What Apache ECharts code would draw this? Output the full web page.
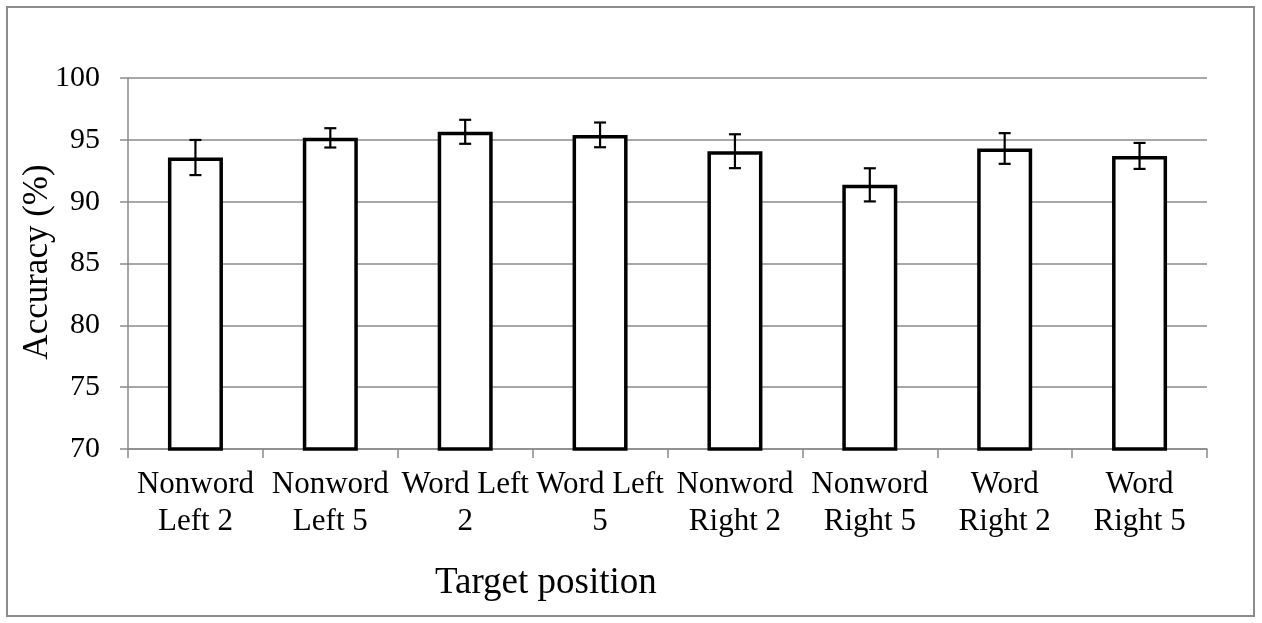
<!DOCTYPE html>
<html>
<head>
<meta charset="utf-8">
<title>Accuracy by target position</title>
<script src="https://cdn.jsdelivr.net/npm/echarts@6/dist/echarts.min.js"></script>
<style>
  html, body { margin: 0; padding: 0; background: #fff; }
  #chart { width: 1262px; height: 623px; }
</style>
</head>
<body>
<div id="chart"></div>
<script>
// Conditions along the x axis
const categories = [
  'Nonword Left 2', 'Nonword Left 5', 'Word Left 2', 'Word Left 5',
  'Nonword Right 2', 'Nonword Right 5', 'Word Right 2', 'Word Right 5'
];
// Wrapped tick labels for each condition
const tickLabels = [
  'Nonword\nLeft 2', 'Nonword\nLeft 5', 'Word Left\n2', 'Word Left\n5',
  'Nonword\nRight 2', 'Nonword\nRight 5', 'Word\nRight 2', 'Word\nRight 5'
];
// Mean accuracy (%) and the error-bar half-width
const accuracy = [93.57, 95.16, 95.65, 95.40, 94.08, 91.36, 94.30, 93.70];
const errorSize = [1.42, 0.78, 0.97, 1.00, 1.37, 1.34, 1.24, 1.05];

const serif = '"Liberation Serif", "Times New Roman", Times, serif';
const gridGray = '#8a8a8a';

const chart = echarts.init(document.getElementById('chart'), null, { renderer: 'canvas' });

const errorData = accuracy.map((v, i) => [i, v - errorSize[i], v + errorSize[i]]);

chart.setOption({
  animation: false,
  backgroundColor: '#fff',
  grid: { left: 128, right: 55, top: 78, bottom: 174, containLabel: false },
  graphic: [
    {
      type: 'rect',
      shape: { x: 7, y: 7, width: 1247, height: 609 },
      style: { fill: 'none', stroke: '#8c8c8c', lineWidth: 2 },
      silent: true, z: -1
    },
    {
      type: 'text',
      left: 435, top: 565,
      style: { text: 'Target position', font: '37px ' + serif, fill: '#000' }
    },
    {
      type: 'text',
      x: 38, y: 262,
      rotation: Math.PI / 2,
      style: {
        text: 'Accuracy (%)', font: '35px ' + serif, fill: '#000',
        align: 'center', verticalAlign: 'middle'
      }
    }
  ],
  xAxis: {
    type: 'category',
    data: categories,
    axisLine: { lineStyle: { color: gridGray, width: 1.5 } },
    axisTick: { show: true, length: 9, lineStyle: { color: gridGray, width: 1.5 } },
    axisLabel: {
      interval: 0,
      margin: 17,
      color: '#000',
      fontFamily: serif,
      fontSize: 31,
      lineHeight: 37,
      formatter: (val, idx) => tickLabels[idx]
    },
    splitLine: { show: false }
  },
  yAxis: {
    type: 'value',
    min: 70, max: 100, interval: 5,
    axisLine: { show: true, lineStyle: { color: gridGray, width: 1.5 } },
    axisTick: { show: true, length: 8, lineStyle: { color: gridGray, width: 1.5 } },
    axisLabel: { margin: 28, color: '#000', fontFamily: serif, fontSize: 30 },
    splitLine: { show: true, lineStyle: { color: gridGray, width: 1.5 } }
  },
  series: [
    {
      type: 'bar',
      data: accuracy,
      barWidth: 55,
      itemStyle: { color: '#fff', borderColor: '#000', borderWidth: 3.5 },
      z: 2
    },
    {
      type: 'custom',
      data: errorData,
      z: 3,
      renderItem: (params, api) => {
        const x = api.value(0);
        const lo = api.coord([x, api.value(1)]);
        const hi = api.coord([x, api.value(2)]);
        const cap = 6;
        const style = { stroke: '#000', lineWidth: 2.2 };
        return {
          type: 'group',
          children: [
            { type: 'line', shape: { x1: hi[0], y1: hi[1], x2: lo[0], y2: lo[1] }, style },
            { type: 'line', shape: { x1: hi[0] - cap, y1: hi[1], x2: hi[0] + cap, y2: hi[1] }, style },
            { type: 'line', shape: { x1: lo[0] - cap, y1: lo[1], x2: lo[0] + cap, y2: lo[1] }, style }
          ]
        };
      }
    }
  ]
});
</script>
</body>
</html>
